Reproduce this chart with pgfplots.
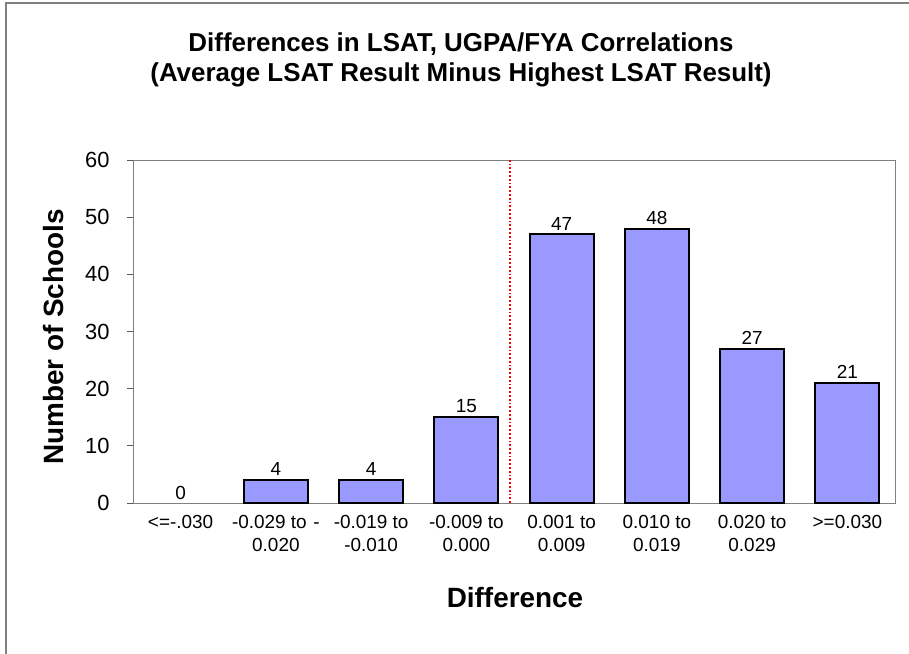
\documentclass[border=0pt]{standalone}
\usepackage{pgfplots}
\pgfplotsset{compat=1.18}
\usepackage{fontspec}
\setmainfont{Liberation Sans}
\definecolor{barfill}{HTML}{9999FF}
\definecolor{framegray}{HTML}{808080}
\begin{document}
\begin{tikzpicture}
\path[use as bounding box] (0,0) rectangle (909bp,-654bp);
\fill[white] (0,0) rectangle (909bp,-654bp);
\draw[framegray, line width=1.2bp] (6bp,-654bp) -- (6bp,-3bp) -- (909bp,-3bp);
\begin{axis}[
  at={(133bp,-503bp)}, anchor=south west,
  scale only axis, width=762bp, height=343bp,
  xmin=-0.5, xmax=7.5, ymin=0, ymax=60,
  axis line style={framegray, line width=1bp},
  ybar, bar width=64bp, bar shift=0pt,
  xtick={0,...,7},
  xticklabels={{<=-.030},{-0.029 to\hspace{0.35em}-\\0.020},{-0.019 to\\-0.010},{-0.009 to\\0.000},{0.001 to\\0.009},{0.010 to\\0.019},{0.020 to\\0.029},{>=0.030}},
  x tick label style={font=\fontsize{19}{23}\selectfont, align=center, anchor=north, yshift=-3bp},
  major x tick style={draw=none},
  extra x ticks={-0.5,0.5,1.5,2.5,3.5,4.5,5.5,6.5,7.5},
  extra x tick labels={},
  extra x tick style={major tick length=6bp, tick align=outside, tick style={framegray!70!black, line width=1bp}},
  xtick pos=bottom,
  ytick={0,10,...,60},
  ytick pos=left,
  tick align=outside,
  major tick length=6bp,
  y tick style={framegray!70!black, line width=1bp},
  y tick label style={font=\fontsize{22}{22}\selectfont, xshift=-14bp},
  /pgf/number format/assume math mode=true,
  nodes near coords,
  every node near coord/.append style={font=\fontsize{19}{19}\selectfont, black, yshift=0bp},
  clip=false,
]
\addplot[draw=none, fill=none] coordinates {(0,0)};
\addplot[fill=barfill, draw=black, line width=2bp] coordinates {(1,4) (2,4) (3,15) (4,47) (5,48) (6,27) (7,21)};
\draw[red, dotted, line width=1.8bp] (axis cs:3.46,0) -- (axis cs:3.46,60);
\end{axis}
\node[font=\bfseries\fontsize{26}{30}\selectfont, align=center] at (461bp,-60bp) {Differences in LSAT, UGPA/FYA Correlations\\(Average LSAT Result Minus Highest LSAT Result)};
\node[font=\bfseries\fontsize{28}{28}\selectfont, rotate=90] at (54bp,-337bp) {Number of Schools};
\node[font=\bfseries\fontsize{28}{28}\selectfont] at (515bp,-598bp) {Difference};
\end{tikzpicture}
\end{document}
